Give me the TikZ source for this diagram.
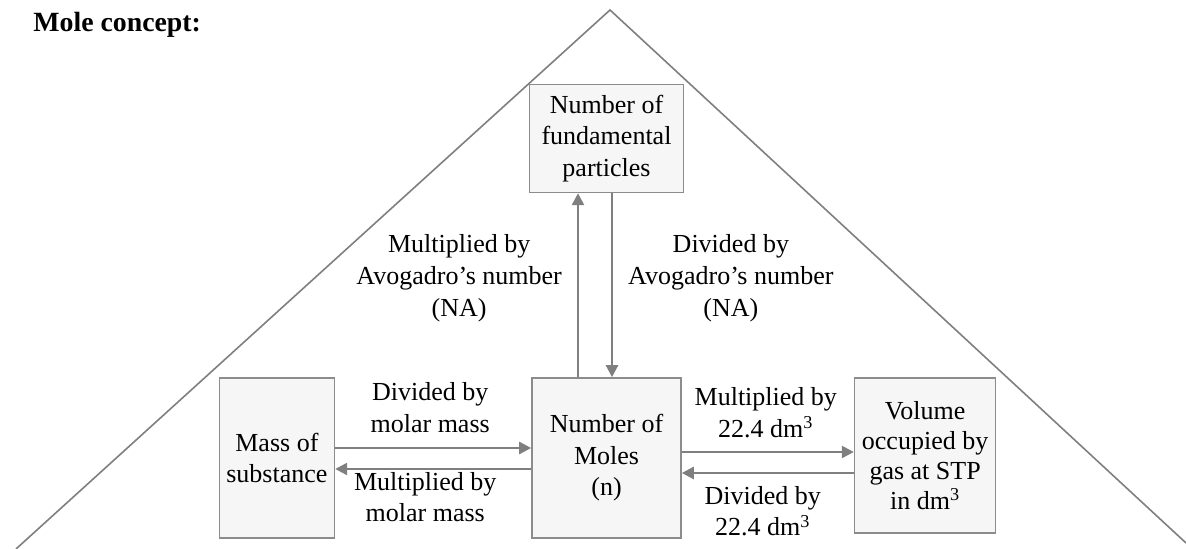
\documentclass[tikz,border=0pt]{standalone}
\usepackage{fontspec}
\setmainfont{Liberation Serif}
\usetikzlibrary{positioning, arrows.meta}
\definecolor{linegray}{HTML}{7F7F7F}
\definecolor{boxgray}{HTML}{F6F6F6}
\tikzset{
x=0.5pt, y=0.5pt, % one unit is one pixel of the reference
every node/.style={font=\fontsize{13}{15.8}\selectfont}, % text size for all nodes
box/.style={draw=linegray!90, fill=boxgray, line width=0.8pt, align=center, inner sep=2pt}, % the four quantities
conv/.style={-{Triangle[length=6pt,width=6pt]}, draw=linegray, line width=1.2pt}, % conversion arrows
lbl/.style={align=center, inner sep=0pt}, % text on the arrows
}

\begin{document}
\begin{tikzpicture}
       \useasboundingbox (0,0) rectangle (1186,549);
       \draw[linegray, line width=0.8pt] (16,0) -- (610,539) -- (1186,6);
       \node[anchor=base west, inner sep=0pt, font=\fontsize{13.9}{16}\selectfont\bfseries] (title) at (33,517) {Mole concept:};

       \node[box, minimum width=74.5pt, minimum height=80pt] (Moles) at (606.5,91) {Number of\\Moles\\(n)};
       \node[box, minimum width=57.5pt, minimum height=80pt, left=98pt of Moles] (Mass) {Mass of\\substance};
       \node[box, minimum width=70.5pt, minimum height=77.5pt, font=\fontsize{13}{15}\selectfont, below right=0pt and 86pt of Moles.north east] (Volume) {Volume\\occupied by\\gas at STP\\in dm\textsuperscript{3}};
       \node[box, minimum width=77pt, minimum height=54pt, above=92pt of Moles] (Particles) {Number of\\fundamental\\particles};

       \draw[conv] ([yshift=5pt]Mass.east) -- node[lbl, above=7pt, xshift=-1.5pt] {Divided by\\molar mass} ([yshift=5pt]Moles.west);
       \draw[conv] ([yshift=-5.5pt]Moles.west) -- node[lbl, below=1pt, xshift=-4pt] {Multiplied by\\molar mass} ([yshift=-5.5pt]Mass.east);
       \draw[conv] ([yshift=3pt]Moles.east) -- node[lbl, above=6.5pt, xshift=-1pt] {Multiplied by\\22.4 dm\textsuperscript{3}} ([yshift=3pt]Moles.east -| Volume.west);
       \draw[conv] ([yshift=-7.5pt]Moles.east -| Volume.west) -- node[lbl, below=6pt, xshift=-2.5pt] {Divided by\\22.4 dm\textsuperscript{3}} ([yshift=-7.5pt]Moles.east);
       \draw[conv] ([xshift=-14.25pt]Moles.north) -- node[lbl, left=7.5pt, yshift=3.5pt] {Multiplied by\\Avogadro's number\\(NA)} ([xshift=-14.25pt]Particles.south);
       \draw[conv] ([xshift=2.75pt]Particles.south) -- node[lbl, right=7.5pt, yshift=3.5pt] {Divided by\\Avogadro's number\\(NA)} ([xshift=2.75pt]Moles.north);
\end{tikzpicture}
\end{document}
